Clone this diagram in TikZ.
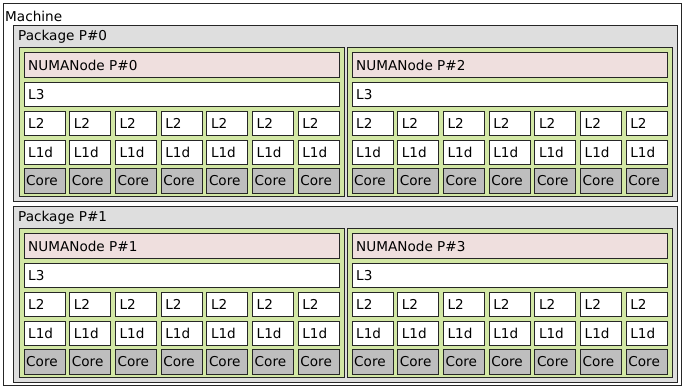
\documentclass[tikz,border=0pt]{standalone}
\usepackage{fontspec}
\setmainfont{DejaVu Sans}
\definecolor{pkgc}{HTML}{DEDEDE}
\definecolor{grpc}{HTML}{D2E7A4}
\definecolor{numac}{HTML}{EFDFDE}
\definecolor{corec}{HTML}{BEBEBE}
\begin{document}
\begin{tikzpicture}[x=1pt,y=-1pt,
  box/.style={draw=black!85, line width=0.9pt, inner sep=0pt, outer sep=0pt, anchor=north west},
  cell/.style n args={3}{box, fill=#3, minimum width=#1, minimum height=#2},
  lbl/.style={anchor=west, inner sep=0pt, font=\fontsize{13.6}{16}\selectfont},
  ]
\useasboundingbox (0,0) rectangle (694,387);
\node[cell={678}{382}{white}] (machine) at (3,3) {};
\node[lbl] (machinelabel) at (5,16) {Machine};
\foreach \p/\oy/\na/\nb in {0/0/0/2, 1/181/1/3} {
  \node[cell={664}{176}{pkgc}] (pkg\p) at (13,25+\oy) {};
  \node[lbl] (pkglabel\p) at (18,37+\oy) {Package P\#\p};
  \foreach \g/\gx/\nn in {0/19/\na, 1/347/\nb} {
    \node[cell={325}{149}{grpc}] (grp\p\g) at (\gx,47+\oy) {};
    \node[cell={315}{25}{numac}] (numa\p\g) at (\gx+5,52+\oy) {};
    \node[lbl] (numalabel\p\g) at (\gx+9,65+\oy) {NUMANode P\#\nn};
    \node[cell={315}{24}{white}] (lthree\p\g) at (\gx+5,82+\oy) {};
    \node[lbl] (lthreelabel\p\g) at (\gx+9,94.5+\oy) {L3};
    \foreach \i in {0,...,6} {
      \node[cell={41}{24}{white}] (ltwo\p\g\i) at (\gx+5+45.7*\i,111+\oy) {};
      \node[lbl] (ltwolabel\p\g\i) at (\gx+9+45.7*\i,123.5+\oy) {L2};
      \node[cell={41}{24}{white}] (lone\p\g\i) at (\gx+5+45.7*\i,140+\oy) {};
      \node[lbl] (lonelabel\p\g\i) at (\gx+9+45.7*\i,152.5+\oy) {L1d};
      \node[cell={41}{25}{corec}] (core\p\g\i) at (\gx+5+45.7*\i,168+\oy) {};
      \node[lbl] (corelabel\p\g\i) at (\gx+7+45.7*\i,181+\oy) {Core};
    }
  }
}
\end{tikzpicture}
\end{document}
